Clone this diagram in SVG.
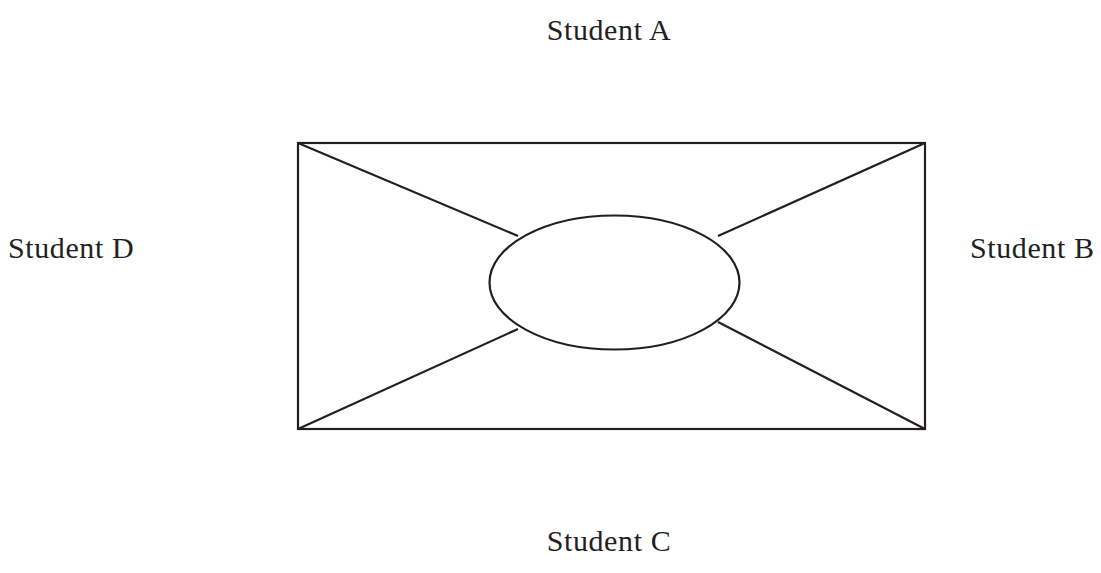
<svg xmlns="http://www.w3.org/2000/svg" width="1101" height="573" viewBox="0 0 1101 573">
<style>
.s{fill:none;stroke:#231f20;stroke-width:2.2}
.t{font-family:"Liberation Serif",serif;font-size:30px;fill:#231f20;letter-spacing:0.6px}
</style>
<rect width="1101" height="573" fill="#fff"/>
<g id="frame"><rect class="s" x="298" y="143" width="627" height="286"/></g>
<g id="center"><ellipse class="s" cx="614.5" cy="282.5" rx="125" ry="67"/></g>
<g id="connectors">
<line class="s" x1="298" y1="143" x2="518" y2="236"/>
<line class="s" x1="925" y1="143" x2="718" y2="236"/>
<line class="s" x1="298" y1="429" x2="518" y2="329"/>
<line class="s" x1="925" y1="429" x2="718" y2="322"/>
</g>
<g id="studentA"><text class="t" x="609" y="40" text-anchor="middle">Student A</text></g>
<g id="studentB"><text class="t" x="970" y="258">Student B</text></g>
<g id="studentC"><text class="t" x="609" y="551" text-anchor="middle">Student C</text></g>
<g id="studentD"><text class="t" x="8" y="258">Student D</text></g>
</svg>
